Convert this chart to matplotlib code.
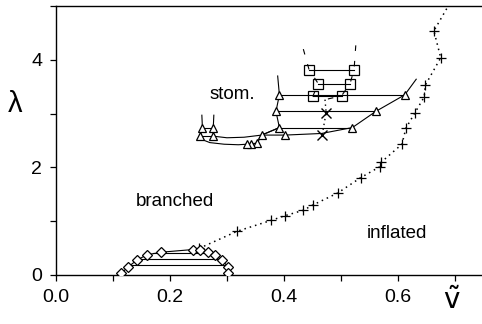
import numpy as np
import matplotlib
matplotlib.use("Agg")
from matplotlib import pyplot as plt
from matplotlib.ticker import MultipleLocator

plt.rcParams['font.family'] = ['Liberation Sans', 'DejaVu Sans']
plt.rcParams['mathtext.fontset'] = 'dejavusans'

################################# data #################################
# inflated / budded boundary (crosses + dotted curve)
infl_v   = [0.251, 0.318, 0.377, 0.402, 0.434, 0.451, 0.494, 0.535, 0.568, 0.570,
            0.607, 0.614, 0.630, 0.646, 0.648, 0.675, 0.663]
infl_lam = [0.49, 0.81, 1.01, 1.10, 1.20, 1.30, 1.52, 1.81, 2.01, 2.09,
            2.43, 2.73, 3.02, 3.31, 3.53, 4.04, 4.54]
infl_end_v, infl_end_lam = 0.688, 5.0

# stomatocyte triangles
tri_v   = [0.392, 0.612, 0.386, 0.561, 0.392, 0.520, 0.402, 0.361, 0.353,
           0.343, 0.335, 0.257, 0.276, 0.253, 0.276]
tri_lam = [3.35, 3.35, 3.04, 3.04, 2.74, 2.74, 2.60, 2.60, 2.45,
           2.43, 2.43, 2.73, 2.73, 2.58, 2.58]

stom_ties = [(3.35, 0.392, 0.612), (3.04, 0.386, 0.561), (2.74, 0.392, 0.520),
             (2.73, 0.257, 0.276), (2.58, 0.253, 0.276)]

stom_left_v   = [0.389, 0.392, 0.386, 0.392, 0.361, 0.353]
stom_left_lam = [3.70, 3.35, 3.04, 2.74, 2.60, 2.45]
stom_right_v   = [0.632, 0.612, 0.561, 0.520, 0.466, 0.402, 0.361]
stom_right_lam = [3.64, 3.35, 3.04, 2.74, 2.63, 2.60, 2.60]
stom_low_v   = [0.253, 0.258, 0.270, 0.295, 0.320, 0.335, 0.353]
stom_low_lam = [2.58, 2.51, 2.46, 2.43, 2.42, 2.43, 2.45]
stom_low2_v   = [0.276, 0.300, 0.330, 0.361, 0.392]
stom_low2_lam = [2.58, 2.55, 2.56, 2.60, 2.74]
stom_v1_v   = [0.256, 0.257, 0.253]
stom_v1_lam = [2.97, 2.73, 2.58]
stom_v2_v   = [0.277, 0.276, 0.276]
stom_v2_lam = [2.97, 2.73, 2.58]

# squares
sq_v   = [0.444, 0.523, 0.460, 0.516, 0.451, 0.501]
sq_lam = [3.82, 3.82, 3.56, 3.56, 3.33, 3.33]
sq_ties = [(3.82, 0.444, 0.523), (3.56, 0.460, 0.516), (3.33, 0.451, 0.501)]
sq_left_v   = [0.434, 0.444, 0.460, 0.451, 0.455]
sq_left_lam = [4.20, 3.82, 3.56, 3.33, 3.20]
sq_right_v   = [0.526, 0.523, 0.516, 0.501, 0.472]
sq_right_lam = [4.27, 3.82, 3.56, 3.33, 3.26]

# x marks
x_v   = [0.474, 0.467]
x_lam = [3.02, 2.60]
x_dot_v   = [0.472, 0.474, 0.467]
x_dot_lam = [3.26, 3.02, 2.60]

# branched diamonds
dia_v   = [0.115, 0.127, 0.142, 0.159, 0.185, 0.241, 0.253, 0.267, 0.279, 0.291, 0.302, 0.302]
dia_lam = [0.03, 0.15, 0.27, 0.37, 0.42, 0.47, 0.46, 0.43, 0.37, 0.27, 0.15, 0.03]
dia_ties = [(0.40, 0.170, 0.270), (0.29, 0.142, 0.290), (0.18, 0.130, 0.300)]

################################# plot #################################
fig = plt.figure(figsize=(4.82, 3.24), dpi=100)
ax = fig.add_axes([0.116, 0.152, 0.884, 0.829])
lw = 0.8

ax.plot(infl_v + [infl_end_v], infl_lam + [infl_end_lam], color='k',
        linestyle=(0, (1, 2.6)), lw=1.1)
ax.plot(infl_v, infl_lam, linestyle='none', marker='+', ms=7, mew=0.9, color='k')

for lam, a, b in stom_ties + sq_ties + dia_ties:
    ax.plot([a, b], [lam, lam], color='k', lw=lw)
for xs, ys in [(stom_left_v, stom_left_lam), (stom_right_v, stom_right_lam),
               (stom_low_v, stom_low_lam), (stom_low2_v, stom_low2_lam),
               (stom_v1_v, stom_v1_lam), (stom_v2_v, stom_v2_lam),
               (dia_v, dia_lam)]:
    ax.plot(xs, ys, color='k', lw=lw)
for xs, ys in [(sq_left_v, sq_left_lam), (sq_right_v, sq_right_lam)]:
    ax.plot(xs, ys, color='k', lw=lw, linestyle=(0, (5, 9)))
ax.plot(x_dot_v, x_dot_lam, color='k', lw=1.0, linestyle=(0, (1, 2.5)))

ax.plot(tri_v, tri_lam, linestyle='none', marker='^', ms=6, mfc='white', mec='k', mew=0.9, zorder=3)
ax.plot(sq_v, sq_lam, linestyle='none', marker='s', ms=6.5, mfc='none', mec='k', mew=0.9, zorder=3)
ax.plot(dia_v, dia_lam, linestyle='none', marker='D', ms=5, mfc='white', mec='k', mew=0.9, zorder=3)
ax.plot(x_v, x_lam, linestyle='none', marker='x', ms=7, mew=1.0, color='k', zorder=3)

ax.text(0.31, 3.36, "stom.", fontsize=13.5, ha='center', va='center')
ax.text(0.209, 1.36, "branched", fontsize=13.5, ha='center', va='center')
ax.text(0.598, 0.77, "inflated", fontsize=13.5, ha='center', va='center')

ax.set_xlim(0, 0.7474)
ax.set_ylim(0, 5.0)
ax.spines['right'].set_visible(False)
for s in ax.spines.values():
    s.set_linewidth(1.0)
ax.xaxis.set_major_locator(MultipleLocator(0.2))
ax.xaxis.set_minor_locator(MultipleLocator(0.1))
ax.yaxis.set_major_locator(MultipleLocator(2))
ax.yaxis.set_minor_locator(MultipleLocator(1))
ax.set_xticklabels([f"{t:.1f}" for t in ax.get_xticks()])
ax.tick_params(which='both', direction='out', length=4, width=0.9, labelsize=14)
ax.tick_params(axis='x', pad=6)
ax.tick_params(axis='y', pad=6)

ax.set_ylabel("λ", fontsize=21, rotation=0)
ax.yaxis.set_label_coords(-0.096, 0.584)
ax.text(0.929, -0.10, r"$\tilde{\mathrm{v}}$", fontsize=20, transform=ax.transAxes,
        ha='center', va='center')

fig.savefig("out.png", dpi=100)
